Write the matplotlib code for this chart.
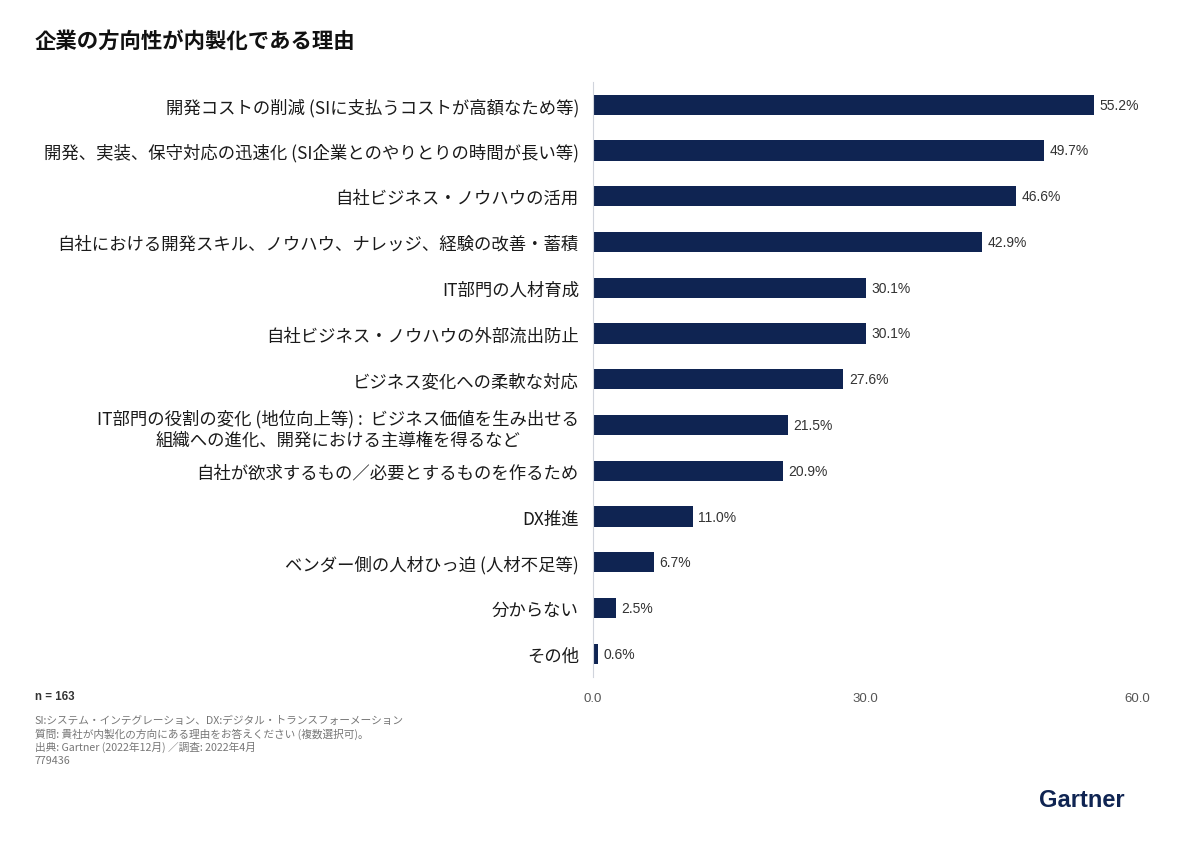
import matplotlib.pyplot as plt
import numpy as np

plt.rcParams['font.family'] = ['Noto Sans CJK JP', 'DejaVu Sans']

# data
labels = [
    "開発コストの削減 (SIに支払うコストが高額なため等)",
    "開発、実装、保守対応の迅速化 (SI企業とのやりとりの時間が長い等)",
    "自社ビジネス・ノウハウの活用",
    "自社における開発スキル、ノウハウ、ナレッジ、経験の改善・蓄積",
    "IT部門の人材育成",
    "自社ビジネス・ノウハウの外部流出防止",
    "ビジネス変化への柔軟な対応",
    "IT部門の役割の変化 (地位向上等) :  ビジネス価値を生み出せる\n組織への進化、開発における主導権を得るなど",
    "自社が欲求するもの／必要とするものを作るため",
    "DX推進",
    "ベンダー側の人材ひっ迫 (人材不足等)",
    "分からない",
    "その他",
]
values = [55.2, 49.7, 46.6, 42.9, 30.1, 30.1, 27.6, 21.5, 20.9, 11.0, 6.7, 2.5, 0.6]
xticks = [0, 30, 60]

navy = "#0f2452"

fig = plt.figure(figsize=(12, 8.45), dpi=100)
ax = fig.add_axes([0.494, 0.198, 0.454, 0.704])

y = np.arange(len(values))
ax.barh(y, values, height=0.44, color=navy)
for yi, v in zip(y, values):
    ax.text(v + 0.6, yi, f"{v:.1f}%", va="center", ha="left",
            fontsize=10, color="#333333", family=["Liberation Sans", "DejaVu Sans"])

ax.set_ylim(len(values) - 0.5, -0.5)
ax.set_xlim(0, 60)
ax.set_yticks(y)
ax.set_yticklabels(labels, fontsize=12.5, color="#1a1a1a", multialignment="center",
                   linespacing=1.25)
ax.set_xticks(xticks)
ax.set_xticklabels([f"{t:.1f}" for t in xticks], fontsize=9.5, color="#555555",
                   family=["Liberation Sans", "DejaVu Sans"])
ax.tick_params(axis="y", length=0, pad=10)
ax.tick_params(axis="x", length=0, pad=11)
for s in ["top", "right", "bottom"]:
    ax.spines[s].set_visible(False)
ax.spines["left"].set_color("#d0d4dc")
ax.spines["left"].set_linewidth(0.8)

fig.text(0.029, 0.951, "企業の方向性が内製化である理由", fontsize=15.4, fontweight="bold",
         va="center", color="#111111")

fig.text(0.029, 0.175, "n = 163", fontsize=8.3, fontweight="bold", color="#333333",
         va="center", family=["Liberation Sans", "DejaVu Sans"])
notes = [
    "SI:システム・インテグレーション、DX:デジタル・トランスフォーメーション",
    "質問: 貴社が内製化の方向にある理由をお答えください (複数選択可)。",
    "出典: Gartner (2022年12月) ／調査: 2022年4月",
    "779436",
]
for i, line in enumerate(notes):
    fig.text(0.029, 0.147 - i * 0.0158, line, fontsize=7.7, color="#777777", va="center")

fig.text(0.937, 0.053, "Gartner", fontsize=17, fontweight="bold", color="#0f2452",
         ha="right", va="center", family=["Liberation Sans", "DejaVu Sans"])

fig.savefig("out.png", dpi=100, facecolor="white")
